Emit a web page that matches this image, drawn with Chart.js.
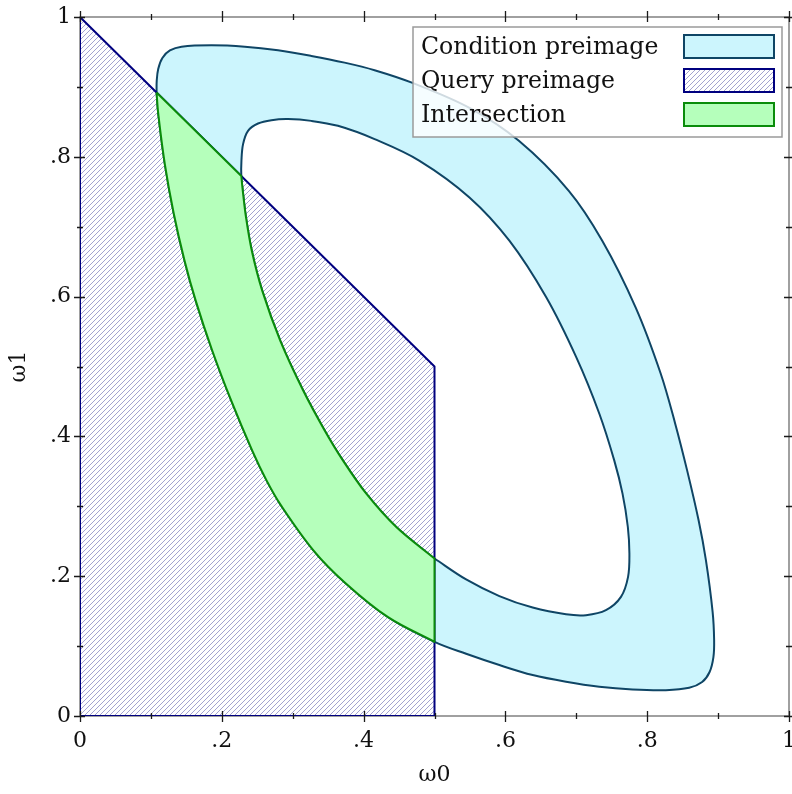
<!DOCTYPE html>
<html>
<head>
<meta charset="utf-8">
<style>
  html, body { margin: 0; padding: 0; background: #ffffff; }
  #wrap { position: relative; width: 792px; height: 794px; }
</style>
<script src="https://cdn.jsdelivr.net/npm/chart.js@4.4.0/dist/chart.umd.min.js"></script>
</head>
<body>
<div id="wrap"><canvas id="c" width="792" height="794"></canvas></div>
<script>
// ---------- data ----------
const seriesLabels = ['Condition preimage', 'Query preimage', 'Intersection'];
const axisTitles = ['ω0', 'ω1'];
const majorTicks = [0, 0.2, 0.4, 0.6, 0.8, 1];
const majorTickLabels = ['0', '.2', '.4', '.6', '.8', '1'];
const minorTicks = [0.1, 0.3, 0.5, 0.7, 0.9];

// Condition preimage – outer boundary, part inside the query region (corner -> x=0.5)
const outerLeftX = [0.108, 0.1104, 0.1196, 0.1323, 0.1475, 0.1632, 0.1865, 0.2132, 0.2428, 0.2631, 0.2835, 0.3292, 0.3746, 0.4345, 0.5];
const outerLeftY = [0.892, 0.8614, 0.7900, 0.7186, 0.6514, 0.5943, 0.5229, 0.4514, 0.3800, 0.3371, 0.3014, 0.2371, 0.1900, 0.1414, 0.1061];
// Condition preimage – rest of the outer boundary (bottom, right side, top)
const outerRestX = [0.5446, 0.5915, 0.6385, 0.6855, 0.7324, 0.7793, 0.8263, 0.8592, 0.8775, 0.8880, 0.8934, 0.8944, 0.8923, 0.8828, 0.8725, 0.8563, 0.8394, 0.8190, 0.7838, 0.7366, 0.6894, 0.6190, 0.5493, 0.4690, 0.4155, 0.3732, 0.3263, 0.2793, 0.2324, 0.1855, 0.1432, 0.1268, 0.1162, 0.1103, 0.1082];
const outerRestY = [0.0890, 0.0729, 0.0586, 0.0490, 0.0419, 0.0380, 0.0370, 0.0403, 0.0486, 0.0629, 0.0843, 0.1086, 0.1486, 0.2229, 0.2800, 0.3514, 0.4186, 0.4900, 0.5843, 0.6800, 0.7514, 0.8229, 0.8700, 0.9057, 0.9239, 0.9347, 0.9443, 0.9524, 0.9576, 0.9596, 0.9576, 0.9521, 0.9414, 0.9257, 0.9086];
// Condition preimage – inner boundary, part inside the query region (x=0.5 -> query edge)
const innerLeftX = [0.5, 0.4461, 0.4038, 0.3708, 0.3451, 0.3148, 0.2824, 0.2570, 0.2423, 0.2342, 0.2296, 0.2275];
const innerLeftY = [0.2253, 0.2704, 0.3181, 0.3657, 0.4086, 0.4657, 0.5371, 0.6086, 0.6657, 0.7129, 0.7514, 0.7725];
// Condition preimage – rest of the inner boundary
const innerRestX = [0.2277, 0.2300, 0.2370, 0.2511, 0.2700, 0.2934, 0.3263, 0.3638, 0.4155, 0.4789, 0.5493, 0.6056, 0.6576, 0.6999, 0.7325, 0.7535, 0.7652, 0.7727, 0.7749, 0.7730, 0.7630, 0.7418, 0.7137, 0.6855, 0.6385, 0.5915, 0.5446];
const innerRestY = [0.7943, 0.8181, 0.8371, 0.8476, 0.8524, 0.8539, 0.8514, 0.8443, 0.8253, 0.7943, 0.7419, 0.6800, 0.5990, 0.5133, 0.4324, 0.3657, 0.3181, 0.2704, 0.2324, 0.1990, 0.1704, 0.1514, 0.1443, 0.1455, 0.1551, 0.1716, 0.1954];
// Query preimage polygon
const queryX = [0, 0, 0.5, 0.5, 0];
const queryY = [0, 1, 0.5, 0, 0];

// ---------- helpers ----------
function pts(xs, ys) { return xs.map((x, i) => ({ x: x, y: ys[i] })); }
const oL = pts(outerLeftX, outerLeftY);
const oR = pts(outerRestX, outerRestY);
const iL = pts(innerLeftX, innerLeftY);
const iR = pts(innerRestX, innerRestY);
const outerPts = oL.concat(oR, [oL[0]]);
const innerPts = iL.concat(iR, [iL[0]]);
const queryPts = pts(queryX, queryY);
// intersection: corners duplicated so the spline keeps them sharp
const interPts = oL.concat([oL[oL.length - 1], iL[0]], iL, [iL[iL.length - 1], oL[0]]);

const COND_FILL = '#ccf5fd', COND_LINE = '#0f4565';
const QUERY_LINE = '#00007f', HATCH = 'rgba(50,50,150,0.5)';
const INTER_FILL = '#b5ffbb', INTER_LINE = '#0a8c0a';
const FONT = '"DejaVu Serif", "Liberation Serif", serif';
const TENSION = 0.35;

function makeHatch() {
  const t = document.createElement('canvas');
  t.width = 5; t.height = 5;
  const g = t.getContext('2d');
  g.strokeStyle = HATCH; g.lineWidth = 0.9;
  g.beginPath();
  g.moveTo(-1, 6); g.lineTo(6, -1);
  g.moveTo(-1, 1); g.lineTo(1, -1);
  g.moveTo(4, 6); g.lineTo(6, 4);
  g.stroke();
  return document.getElementById('c').getContext('2d').createPattern(t, 'repeat');
}
const hatch = makeHatch();

// frame, tick crosses on all four sides, legend box
const framePlugin = {
  id: 'frame',
  beforeDatasetsDraw(chart) {
    const { ctx, chartArea: a } = chart;
    ctx.save();
    ctx.strokeStyle = '#6e6e6e'; ctx.lineWidth = 1.3;
    ctx.strokeRect(a.left, a.top, a.right - a.left, a.bottom - a.top);
    ctx.restore();
  },
  afterDatasetsDraw(chart) {
    const { ctx, chartArea: a, scales } = chart;
    ctx.save();
    ctx.strokeStyle = '#1a1a1a'; ctx.lineWidth = 1.3;
    ctx.beginPath();
    const draw = (vals, inL, outL) => {
      vals.forEach(v => {
        const px = Math.round(scales.x.getPixelForValue(v)) + 0.5;
        const py = Math.round(scales.y.getPixelForValue(v)) + 0.5;
        ctx.moveTo(px, a.bottom - inL); ctx.lineTo(px, a.bottom + outL);
        ctx.moveTo(px, a.top + inL); ctx.lineTo(px, a.top - outL);
        ctx.moveTo(a.left + inL, py); ctx.lineTo(a.left - outL, py);
        ctx.moveTo(a.right - inL, py); ctx.lineTo(a.right + outL, py);
      });
    };
    draw(majorTicks, 5, 6);
    draw(minorTicks, 3, 3);
    ctx.stroke();
    ctx.restore();
  },
  afterDraw(chart) {
    const { ctx } = chart;
    const bx = 413, by = 27, bw = 369, bh = 110;
    ctx.save();
    ctx.fillStyle = 'rgba(255,255,255,0.8)';
    ctx.fillRect(bx, by, bw, bh);
    ctx.strokeStyle = '#9a9a9a'; ctx.lineWidth = 1.5;
    ctx.strokeRect(bx, by, bw, bh);
    const rows = [46.5, 80.5, 114.5];
    const sw = [
      { fill: COND_FILL, line: COND_LINE },
      { fill: hatch, line: QUERY_LINE, white: true },
      { fill: INTER_FILL, line: INTER_LINE }
    ];
    ctx.font = '23.6px ' + FONT;
    ctx.textBaseline = 'middle';
    ctx.textAlign = 'left';
    rows.forEach((cy, i) => {
      ctx.fillStyle = '#111';
      ctx.fillText(seriesLabels[i], 421, cy + 1);
      const sx = 684, sy = cy - 11.5, w = 90, h = 23;
      if (sw[i].white) { ctx.fillStyle = '#fff'; ctx.fillRect(sx, sy, w, h); }
      ctx.fillStyle = sw[i].fill;
      ctx.fillRect(sx, sy, w, h);
      ctx.strokeStyle = sw[i].line; ctx.lineWidth = 2;
      ctx.strokeRect(sx, sy, w, h);
    });
    ctx.restore();
  }
};

const tickFont = { family: FONT, size: 22 };

new Chart(document.getElementById('c'), {
  type: 'line',
  data: {
    datasets: [
      { label: seriesLabels[0], data: outerPts, order: 3, fill: 'shape',
        backgroundColor: COND_FILL, borderColor: COND_LINE, borderWidth: 2, tension: TENSION },
      { label: seriesLabels[0] + ' (hole)', data: innerPts, order: 2, fill: 'shape',
        backgroundColor: '#ffffff', borderColor: COND_LINE, borderWidth: 2, tension: TENSION },
      { label: seriesLabels[1], data: queryPts, order: 1, fill: 'shape',
        backgroundColor: hatch, borderColor: QUERY_LINE, borderWidth: 2, tension: 0 },
      { label: seriesLabels[2], data: interPts, order: 0, fill: 'shape',
        backgroundColor: INTER_FILL, borderColor: INTER_LINE, borderWidth: 2, tension: TENSION }
    ]
  },
  options: {
    responsive: false,
    animation: false,
    devicePixelRatio: 1,
    layout: { padding: { left: 0, right: 3, top: 17, bottom: 0 } },
    elements: { point: { radius: 0, hoverRadius: 0 }, line: { borderJoinStyle: 'round', capBezierPoints: false } },
    plugins: { legend: { display: false }, tooltip: { enabled: false } },
    events: [],
    scales: {
      x: {
        type: 'linear', min: 0, max: 1,
        grid: { display: false, drawTicks: false },
        border: { display: false },
        afterBuildTicks: s => { s.ticks = majorTicks.map(v => ({ value: v })); },
        ticks: { callback: (v, i) => majorTickLabels[i], font: tickFont, color: '#111', padding: 12, maxRotation: 0, autoSkip: false },
        title: { display: true, text: axisTitles[0], font: tickFont, color: '#111', padding: { top: 0, bottom: 6 } },
        afterFit: s => { s.height = 78; s.paddingLeft = 0; s.paddingRight = 0; }
      },
      y: {
        type: 'linear', min: 0, max: 1,
        grid: { display: false, drawTicks: false },
        border: { display: false },
        afterBuildTicks: s => { s.ticks = majorTicks.map(v => ({ value: v })); },
        ticks: { callback: (v, i) => majorTickLabels[i], font: tickFont, color: '#111', padding: 9, autoSkip: false },
        title: { display: true, text: axisTitles[1], font: tickFont, color: '#111', padding: { top: 6, bottom: 0 } },
        afterFit: s => { s.width = 80; s.paddingTop = 0; s.paddingBottom = 0; }
      }
    }
  },
  plugins: [framePlugin]
});
</script>
</body>
</html>
